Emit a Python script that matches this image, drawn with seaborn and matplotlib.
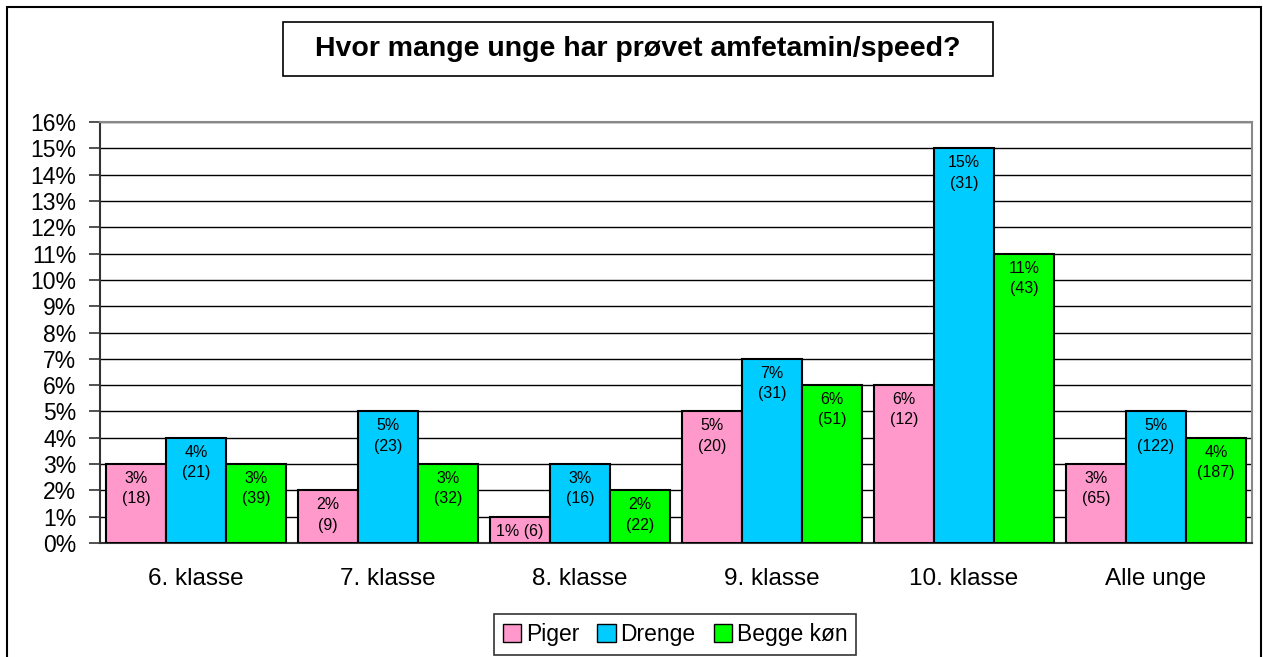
import matplotlib
matplotlib.use('Agg')
import matplotlib.pyplot as plt
import matplotlib.patches as mpatches
import numpy as np
import pandas as pd
import seaborn as sns

# Data
categories = ['6. klasse', '7. klasse', '8. klasse', '9. klasse', '10. klasse', 'Alle unge']
groups = ['Piger', 'Drenge', 'Begge køn']
piger_pct = [3, 2, 1, 5, 6, 3]
piger_n = [18, 9, 6, 20, 12, 65]
drenge_pct = [4, 5, 3, 7, 15, 5]
drenge_n = [21, 23, 16, 31, 31, 122]
begge_pct = [3, 3, 2, 6, 11, 4]
begge_n = [39, 32, 22, 51, 43, 187]
colors = ['#FF99CC', '#00CCFF', '#00FF00']

rows = []
for g, pct, n in zip(groups, [piger_pct, drenge_pct, begge_pct], [piger_n, drenge_n, begge_n]):
    for c, p, k in zip(categories, pct, n):
        rows.append({'klasse': c, 'gruppe': g, 'pct': p, 'n': k})
df = pd.DataFrame(rows)

sns.set_style('white')
plt.rcParams['font.family'] = ['Liberation Sans', 'DejaVu Sans']
plt.rcParams['text.color'] = 'black'
plt.rcParams['xtick.color'] = 'black'
plt.rcParams['ytick.color'] = 'black'

W, H = 1263, 657
fig = plt.figure(figsize=(W / 100, H / 100), dpi=100)
ax = fig.add_axes([100 / W, 1 - 543 / H, (1252 - 100) / W, (543 - 122) / H])

sns.barplot(data=df, x='klasse', y='pct', hue='gruppe', order=categories,
            hue_order=groups, palette=colors, width=0.94, gap=0,
            edgecolor='black', linewidth=1.5, saturation=1, ax=ax,
            legend=False, zorder=3)

ax.set_ylim(0, 16)
ax.set_xlim(-0.5, len(categories) - 0.5)
ax.set_yticks(range(0, 17))
ax.set_yticklabels([f'{i}%' for i in range(0, 17)], fontsize=16.5)
ax.set_xticks(range(len(categories)))
ax.set_xticklabels(categories, fontsize=17.5)
ax.set_xticks(np.arange(-0.5, len(categories)), minor=True)
ax.tick_params(axis='x', which='major', length=0, pad=18)
ax.tick_params(axis='x', which='minor', length=7, width=1.2, color='#333333', direction='out')
ax.tick_params(axis='y', length=8, width=1.2, color='#333333', direction='out', left=True, pad=9)
ax.set_xlabel('')
ax.set_ylabel('')
ax.yaxis.grid(True, color='black', linewidth=1, zorder=0)
ax.set_axisbelow(True)
for s in ['top', 'right']:
    ax.spines[s].set_color('#888888')
    ax.spines[s].set_linewidth(1.5)
ax.spines['left'].set_color('#333333')
ax.spines['left'].set_linewidth(1.5)
ax.spines['bottom'].set_color('#333333')
ax.spines['bottom'].set_linewidth(1.5)

# Value labels inside bars
all_n = [piger_n, drenge_n, begge_n]
for cont, ns in zip(ax.containers, all_n):
    for bar, k in zip(cont, ns):
        h = bar.get_height()
        xc = bar.get_x() + bar.get_width() / 2
        if h < 1.5:
            txt = f'{int(h)}% ({k})'
        else:
            txt = f'{int(h)}%\n({k})'
        ax.annotate(txt, (xc, h), xytext=(0, -5), textcoords='offset points',
                    ha='center', va='top', fontsize=11.5, linespacing=1.45, zorder=5)

# Title box
fig.patches.append(mpatches.Rectangle((283 / W, 1 - 76 / H), (993 - 283) / W, 54 / H,
                                      transform=fig.transFigure, fill=False,
                                      edgecolor='black', linewidth=1.2))
fig.text(638 / W, 1 - 49 / H, 'Hvor mange unge har prøvet amfetamin/speed?',
         ha='center', va='center', fontsize=20.5, fontweight='bold')

# Outer border
fig.patches.append(mpatches.Rectangle((7 / W, -0.05), (1261 - 7) / W, 1.05 - 7 / H,
                                      transform=fig.transFigure, fill=False,
                                      edgecolor='black', linewidth=1.5))

# Legend
handles = [mpatches.Patch(facecolor=c, edgecolor='black', linewidth=1) for c in colors]
leg = fig.legend(handles, groups, loc='center', bbox_to_anchor=(675 / W, 1 - 634.5 / H),
                 ncol=3, fontsize=16.5, frameon=True, fancybox=False, edgecolor='black',
                 handlelength=0.8, handleheight=0.8, handletextpad=0.2,
                 columnspacing=0.8, borderpad=0.4, borderaxespad=0)
leg.get_frame().set_linewidth(1.2)

fig.savefig('out.png', dpi=100)
